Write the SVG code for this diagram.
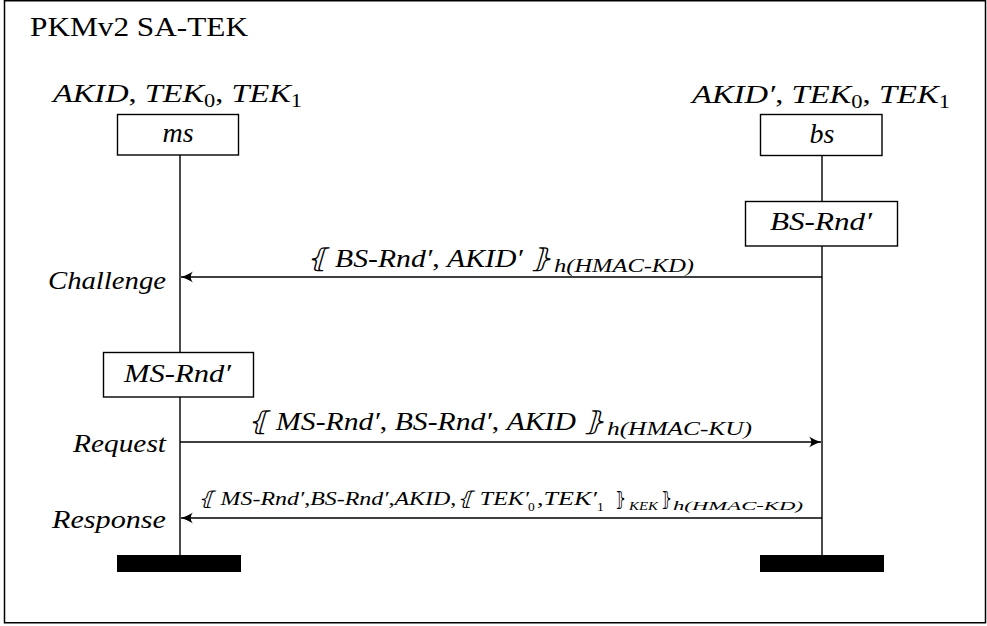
<svg xmlns="http://www.w3.org/2000/svg" width="987" height="626" viewBox="0 0 987 626">
<defs>
<marker id="arr" markerUnits="userSpaceOnUse" markerWidth="16" markerHeight="12" viewBox="-13 -6 14 12" refX="0" refY="0" orient="auto">
<path d="M0,0 C-4,-1.2 -8,-3 -12,-5.5 C-9,-2 -9,2 -12,5.5 C-8,3 -4,1.2 0,0 Z" fill="#000"/>
</marker>
</defs>
<rect x="4.5" y="0.75" width="981" height="622" fill="#fff" stroke="#000" stroke-width="1.5"/>
<text style="font-family:'Liberation Serif',serif" font-size="27" x="30" y="36" textLength="218" lengthAdjust="spacingAndGlyphs">PKMv2 SA-TEK</text>

<g id="connectors" fill="none" stroke="#000" stroke-width="1.4">
<path d="M180,155 V352 M180,397 V555"/>
<path d="M822,156 V201 M822,246 V555"/>
<path d="M822,277 H181" marker-end="url(#arr)"/>
<path d="M180,442 H821" marker-end="url(#arr)"/>
<path d="M822,518 H181" marker-end="url(#arr)"/>
</g>

<g id="labels" fill="#000">
<text style="font-family:'Liberation Serif',serif;font-style:italic" font-size="26" x="306" y="267" textLength="246" lengthAdjust="spacingAndGlyphs">⦃ BS-Rnd′<tspan font-style="normal">, </tspan>AKID′ ⦄</text>
<text style="font-family:'Liberation Serif',serif;font-style:italic" font-size="18" x="554" y="272" textLength="140" lengthAdjust="spacingAndGlyphs">h(HMAC-KD)</text>
<text style="font-family:'Liberation Serif',serif;font-style:italic" font-size="26" x="247" y="430" textLength="358" lengthAdjust="spacingAndGlyphs">⦃ MS-Rnd′<tspan font-style="normal">, </tspan>BS-Rnd′<tspan font-style="normal">, </tspan>AKID ⦄</text>
<text style="font-family:'Liberation Serif',serif;font-style:italic" font-size="18" x="607" y="435" textLength="145" lengthAdjust="spacingAndGlyphs">h(HMAC-KU)</text>
<text style="font-family:'Liberation Serif',serif;font-style:italic" font-size="19" x="197" y="505" textLength="332" lengthAdjust="spacingAndGlyphs">⦃ MS-Rnd′<tspan font-style="normal">,</tspan>BS-Rnd′<tspan font-style="normal">,</tspan>AKID<tspan font-style="normal">,</tspan>⦃ TEK′</text>
<text style="font-family:'Liberation Serif',serif" font-size="13.5" x="528" y="511">0</text>
<text style="font-family:'Liberation Serif',serif;font-style:italic" font-size="19" x="537" y="505" textLength="60" lengthAdjust="spacingAndGlyphs"><tspan font-style="normal">,</tspan>TEK′</text>
<text style="font-family:'Liberation Serif',serif" font-size="13.5" x="597" y="511">1</text>
<text style="font-family:'Liberation Serif',serif" font-size="19" x="615" y="505" textLength="11" lengthAdjust="spacingAndGlyphs">⦄</text>
<text style="font-family:'Liberation Serif',serif;font-style:italic" font-size="13.5" x="629" y="510" textLength="29" lengthAdjust="spacingAndGlyphs">KEK</text>
<text style="font-family:'Liberation Serif',serif" font-size="19" x="661" y="505" textLength="11" lengthAdjust="spacingAndGlyphs">⦄</text>
<text style="font-family:'Liberation Serif',serif;font-style:italic" font-size="13.5" x="673" y="510" textLength="130" lengthAdjust="spacingAndGlyphs">h(HMAC-KD)</text>
<text style="font-family:'Liberation Serif',serif;font-style:italic" font-size="26" text-anchor="end" x="166" y="289" textLength="118" lengthAdjust="spacingAndGlyphs">Challenge</text>
<text style="font-family:'Liberation Serif',serif;font-style:italic" font-size="26" text-anchor="end" x="166" y="452" textLength="93" lengthAdjust="spacingAndGlyphs">Request</text>
<text style="font-family:'Liberation Serif',serif;font-style:italic" font-size="26" text-anchor="end" x="166" y="528" textLength="114" lengthAdjust="spacingAndGlyphs">Response</text>
</g>

<g id="ms">
<text style="font-family:'Liberation Serif',serif;font-style:italic" font-size="26" x="53" y="102" textLength="249" lengthAdjust="spacingAndGlyphs">AKID<tspan font-style="normal">, </tspan>TEK<tspan font-style="normal" font-size="18" dy="5">0</tspan><tspan font-style="normal" dy="-5">, </tspan>TEK<tspan font-style="normal" font-size="18" dy="5">1</tspan></text>
<rect x="117.5" y="114.5" width="121" height="40.5" fill="#fff" stroke="#000" stroke-width="1.4"/>
<text style="font-family:'Liberation Serif',serif;font-style:italic" font-size="28" text-anchor="middle" x="178" y="142">ms</text>
</g>

<g id="bs">
<text style="font-family:'Liberation Serif',serif;font-style:italic" font-size="26" x="692" y="103" textLength="258" lengthAdjust="spacingAndGlyphs">AKID′<tspan font-style="normal">, </tspan>TEK<tspan font-style="normal" font-size="18" dy="5">0</tspan><tspan font-style="normal" dy="-5">, </tspan>TEK<tspan font-style="normal" font-size="18" dy="5">1</tspan></text>
<rect x="760.5" y="114.5" width="121.5" height="41" fill="#fff" stroke="#000" stroke-width="1.4"/>
<text style="font-family:'Liberation Serif',serif;font-style:italic" font-size="28" text-anchor="middle" x="822" y="143">bs</text>
</g>

<g id="bs-rnd">
<rect x="745.5" y="201.5" width="152" height="44.5" fill="#fff" stroke="#000" stroke-width="1.4"/>
<text style="font-family:'Liberation Serif',serif;font-style:italic" font-size="26" x="770" y="230" textLength="102" lengthAdjust="spacingAndGlyphs">BS-Rnd′</text>
</g>

<g id="ms-rnd">
<rect x="103.5" y="352.5" width="150" height="44.5" fill="#fff" stroke="#000" stroke-width="1.4"/>
<text style="font-family:'Liberation Serif',serif;font-style:italic" font-size="26" x="124" y="382" textLength="107" lengthAdjust="spacingAndGlyphs">MS-Rnd′</text>
</g>

<g id="ms-end"><rect x="117" y="555" width="124" height="17" fill="#000"/></g>
<g id="bs-end"><rect x="760" y="555" width="124" height="17" fill="#000"/></g>
</svg>
